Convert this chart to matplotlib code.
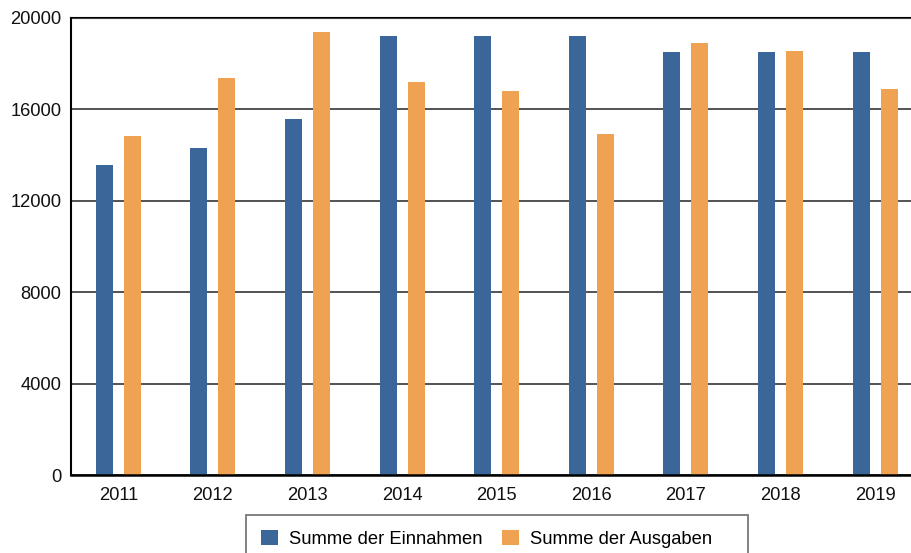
import numpy as np
import matplotlib
matplotlib.use("Agg")
import matplotlib.pyplot as plt
from matplotlib.patches import Rectangle

plt.rcParams['font.family'] = ['Liberation Sans', 'DejaVu Sans']

years = ["2011", "2012", "2013", "2014", "2015", "2016", "2017", "2018", "2019"]
einnahmen = [13560, 14310, 15580, 19210, 19210, 19210, 18510, 18510, 18510]
ausgaben = [14840, 17370, 19390, 17200, 16810, 14920, 18910, 18560, 16890]

blue = "#3a6699"
orange = "#efa251"

fig = plt.figure(figsize=(9.12, 5.53), dpi=100)
ax = fig.add_axes([71 / 912, 78 / 553, 841 / 912, 457 / 553])

x = np.arange(len(years))
w = 0.18
off = 0.148
ax.bar(x - off, einnahmen, w, color=blue, label="Summe der Einnahmen", zorder=3)
ax.bar(x + off, ausgaben, w, color=orange, label="Summe der Ausgaben", zorder=3)

ax.set_xlim(-0.5, 8.39)
ax.set_ylim(0, 20000)
ax.set_yticks(range(0, 20001, 4000))
ax.set_xticks(x)
ax.set_xticklabels(years)

ax.yaxis.grid(True, color="#444444", linewidth=1.3, zorder=0)
ax.axhline(20000, color="black", linewidth=1.5, zorder=1, clip_on=False)
for s in ["top", "right"]:
    ax.spines[s].set_visible(False)
ax.spines["left"].set_linewidth(1.5)
ax.spines["bottom"].set_linewidth(1.8)
ax.spines["bottom"].set_zorder(4)
ax.tick_params(axis="both", length=0, labelsize=13.2, colors="#111111")
ax.tick_params(axis="y", pad=7)
ax.tick_params(axis="x", pad=9)

# legend box is wider than its content, so draw the frame by hand
fig.patches.append(Rectangle((246 / 912, -0.05), (748 - 246) / 912, 0.05 + 38 / 553,
                             transform=fig.transFigure, fill=False,
                             edgecolor="#777777", linewidth=1.3))
fig.legend(loc="upper left", bbox_to_anchor=(246 / 912, 1 - 515 / 553),
           ncol=2, fontsize=13.2, frameon=False,
           handlelength=0.93, handleheight=0.93,
           handletextpad=0.6, columnspacing=1.09, borderpad=0.8,
           borderaxespad=0)

fig.savefig("out.png", dpi=100)
